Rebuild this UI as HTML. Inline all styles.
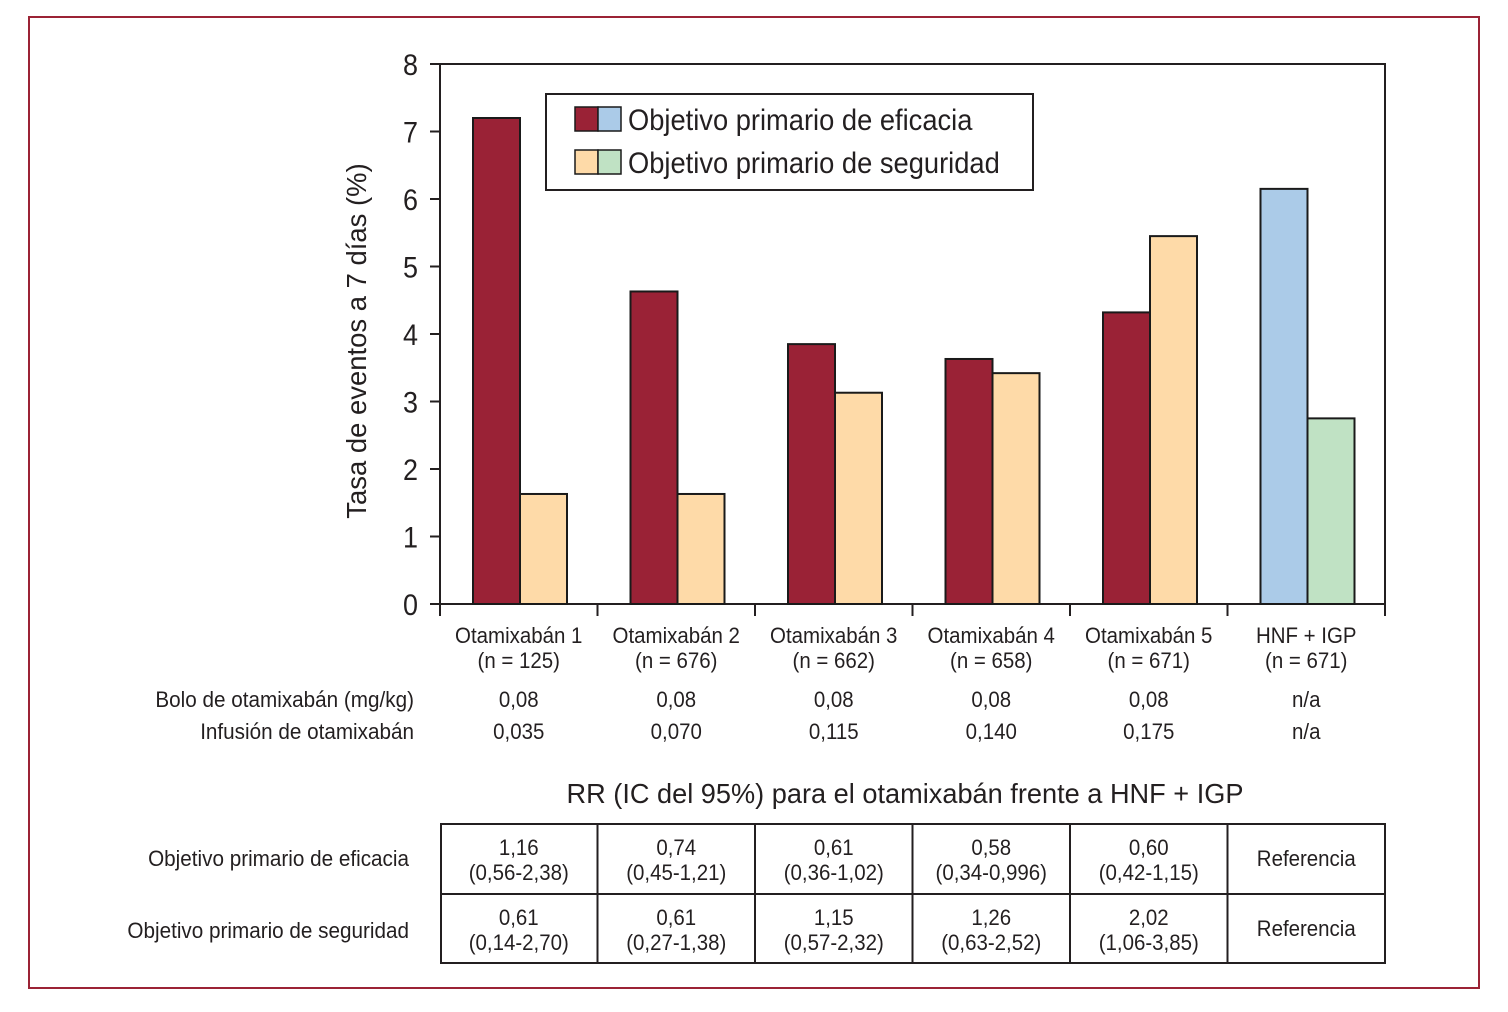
<!DOCTYPE html>
<html><head><meta charset="utf-8">
<style>
html,body{margin:0;padding:0;background:#fff;}
svg{display:block;}
text{font-family:"Liberation Sans Narrow","Liberation Sans",sans-serif;fill:#231f20;}
</style></head>
<body>
<svg id="chart" width="1508" height="1012" viewBox="0 0 1508 1012" xmlns="http://www.w3.org/2000/svg">
<rect x="29" y="17" width="1450" height="971" fill="none" stroke="#9b2335" stroke-width="2"/>
<g id="plot"></g>
</svg>
<script>
const categories=["Otamixabán 1","Otamixabán 2","Otamixabán 3","Otamixabán 4","Otamixabán 5","HNF + IGP"];
const nLabels=["(n = 125)","(n = 676)","(n = 662)","(n = 658)","(n = 671)","(n = 671)"];
const efficacy=[7.2,4.63,3.85,3.63,4.32,6.15];
const safety=[1.63,1.63,3.13,3.42,5.45,2.75];
const bolus=["0,08","0,08","0,08","0,08","0,08","n/a"];
const infusion=["0,035","0,070","0,115","0,140","0,175","n/a"];
const rrEff=[["1,16","(0,56-2,38)"],["0,74","(0,45-1,21)"],["0,61","(0,36-1,02)"],["0,58","(0,34-0,996)"],["0,60","(0,42-1,15)"],["Referencia",""]];
const rrSaf=[["0,61","(0,14-2,70)"],["0,61","(0,27-1,38)"],["1,15","(0,57-2,32)"],["1,26","(0,63-2,52)"],["2,02","(1,06-3,85)"],["Referencia",""]];
const yTicks=[0,1,2,3,4,5,6,7,8];

const NS="http://www.w3.org/2000/svg";
const g=document.getElementById('plot');
const X0=440,X1=1385,Y0=604,Y8=64;
const gw=(X1-X0)/categories.length;
const y=v=>Y0-(v/8)*(Y0-Y8);
const gx=i=>X0+i*gw;
const squeeze=[];
function el(t,a,txt,sq){const e=document.createElementNS(NS,t);for(const k in a)e.setAttribute(k,a[k]);if(txt!==undefined)e.textContent=txt;g.appendChild(e);if(t==='text')squeeze.push([e,sq||0.93]);return e;}

let e=el('rect',{x:X0,y:Y8,width:X1-X0,height:Y0-Y8,fill:'none',stroke:'#231f20','stroke-width':2});


yTicks.forEach(t=>{
 let l=el('line',{x1:X0-10,x2:X0,y1:y(t),y2:y(t),stroke:'#231f20','stroke-width':2});
 
 
 let tx=el('text',{x:418,y:y(t)+11,'text-anchor':'end','font-size':30},String(t),0.9);
 
 
});
e=el('text',{x:0,y:0,'font-size':28,'text-anchor':'middle',transform:'translate(366,341) rotate(-90)'},'Tasa de eventos a 7 días (%)',0.98);


for(let i=0;i<=categories.length;i++){
 let l=el('line',{x1:gx(i),x2:gx(i),y1:Y0,y2:Y0+12,stroke:'#231f20','stroke-width':2});
 
 
}
categories.forEach((c,i)=>{
 const last=i===categories.length-1;
 const bw=47,b0=gx(i)+33;
 let r=el('rect',{x:b0,y:y(efficacy[i]),width:bw,height:Y0-y(efficacy[i]),fill:last?'#abcbe8':'#9a2236',stroke:'#1a1a1a','stroke-width':2});
 
 
 r=el('rect',{x:b0+bw,y:y(safety[i]),width:bw,height:Y0-y(safety[i]),fill:last?'#c0e2c4':'#fedaa8',stroke:'#1a1a1a','stroke-width':2});
 
 
 const cx=gx(i)+gw/2;
 let t=el('text',{x:cx,y:643,'text-anchor':'middle','font-size':22},c);
 
 
 t=el('text',{x:cx,y:668,'text-anchor':'middle','font-size':22},nLabels[i]);
 
 
 t=el('text',{x:cx,y:707,'text-anchor':'middle','font-size':22},bolus[i]);
 
 
 t=el('text',{x:cx,y:739,'text-anchor':'middle','font-size':22},infusion[i]);
 
 
 [[rrEff,824],[rrSaf,894]].forEach(([arr,ty])=>{
  if(arr[i][1]){
   let a=el('text',{x:cx,y:ty+31,'text-anchor':'middle','font-size':22},arr[i][0]);
   
   
   a=el('text',{x:cx,y:ty+56,'text-anchor':'middle','font-size':22},arr[i][1]);
   
   
  } else {
   let a=el('text',{x:cx,y:ty+42,'text-anchor':'middle','font-size':22},arr[i][0]);
   
   
  }
 });
});
e=el('text',{x:414,y:707,'text-anchor':'end','font-size':22},'Bolo de otamixabán (mg/kg)',0.94);


e=el('text',{x:414,y:739,'text-anchor':'end','font-size':22},'Infusión de otamixabán',0.94);


e=el('text',{x:905,y:803,'text-anchor':'middle','font-size':28},'RR (IC del 95%) para el otamixabán frente a HNF + IGP',0.97);


e=el('rect',{x:X0+1,y:824,width:X1-X0-1,height:139,fill:'none',stroke:'#231f20','stroke-width':2});


e=el('line',{x1:X0+1,x2:X1,y1:894,y2:894,stroke:'#231f20','stroke-width':2});


for(let i=1;i<categories.length;i++){
 let l=el('line',{x1:gx(i),x2:gx(i),y1:824,y2:963,stroke:'#231f20','stroke-width':2});
 
 
}
e=el('text',{x:409,y:866,'text-anchor':'end','font-size':22},'Objetivo primario de eficacia',0.94);


e=el('text',{x:409,y:938,'text-anchor':'end','font-size':22},'Objetivo primario de seguridad',0.94);


e=el('rect',{x:546,y:94,width:487,height:96,fill:'#fff',stroke:'#231f20','stroke-width':2});


[['#9a2236','#abcbe8',107,'Objetivo primario de eficacia'],['#fedaa8','#c0e2c4',150,'Objetivo primario de seguridad']].forEach(([c1,c2,ly,lab])=>{
 let s=el('rect',{x:575,y:ly,width:23,height:24,fill:c1,stroke:'#1a1a1a','stroke-width':1.5});
 
 
 s=el('rect',{x:598,y:ly,width:23,height:24,fill:c2,stroke:'#1a1a1a','stroke-width':1.5});
 
 
 let t=el('text',{x:628,y:ly+23,'font-size':30},lab,0.91);
 
 
});
squeeze.forEach(([t,f])=>{
 const w=t.getComputedTextLength();
 if(w>0){t.setAttribute('textLength',(w*f).toFixed(1));t.setAttribute('lengthAdjust','spacingAndGlyphs');}
});
</script>
</body></html>
